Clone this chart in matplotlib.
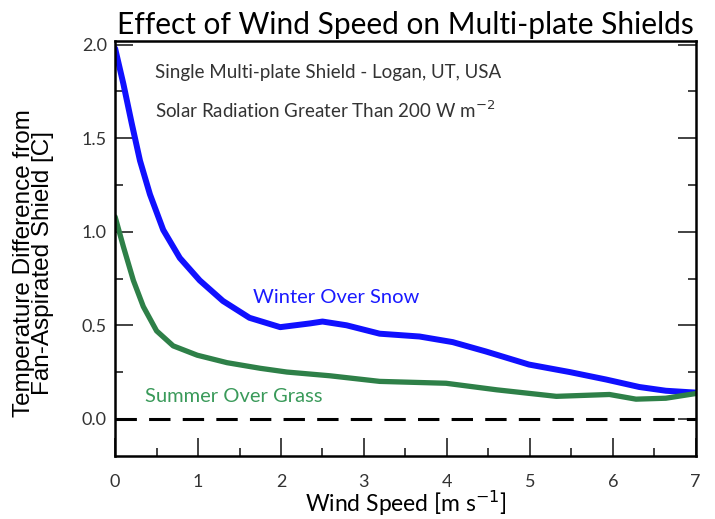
import numpy as np
import matplotlib
matplotlib.use('Agg')
import matplotlib.pyplot as plt
from matplotlib.ticker import MultipleLocator

# Winter over snow (blue)
winter_x = [0.0, 0.10, 0.20, 0.30, 0.42, 0.58, 0.78, 1.02, 1.30, 1.62, 1.99, 2.35, 2.50,
            2.79, 3.19, 3.67, 4.07, 4.47, 4.99, 5.48, 5.92, 6.32, 6.64, 7.0]
winter_y = [1.98, 1.79, 1.58, 1.38, 1.20, 1.01, 0.86, 0.74, 0.63, 0.54, 0.49, 0.51, 0.52,
            0.50, 0.455, 0.44, 0.41, 0.36, 0.29, 0.25, 0.21, 0.17, 0.15, 0.14]

# Summer over grass (green)
summer_x = [0.0, 0.10, 0.22, 0.34, 0.50, 0.70, 0.99, 1.35, 1.75, 2.07, 2.59, 3.19, 3.99,
            4.60, 5.32, 5.96, 6.28, 6.64, 7.0]
summer_y = [1.08, 0.92, 0.74, 0.60, 0.47, 0.39, 0.34, 0.30, 0.27, 0.25, 0.23, 0.20, 0.19,
            0.155, 0.12, 0.13, 0.105, 0.11, 0.135]

x_ticks = [0, 1, 2, 3, 4, 5, 6, 7]
y_ticks = [0.0, 0.5, 1.0, 1.5, 2.0]

fig = plt.figure(figsize=(7.15, 5.19), dpi=100)
ax = fig.add_axes([0.161, 0.121, 0.812, 0.80])

ax.plot(winter_x, winter_y, color='#1010ff', lw=4.3, solid_capstyle='round', solid_joinstyle='round')
ax.plot(summer_x, summer_y, color='#2e8048', lw=3.8, solid_capstyle='round', solid_joinstyle='round')
ax.axhline(0, color='black', lw=2.2, dashes=(7, 4))

ax.set_xlim(0, 7)
ax.set_ylim(-0.2, 2.02)
ax.set_xticks(x_ticks)
ax.set_yticks(y_ticks)
ax.set_xticklabels([str(t) for t in x_ticks], family='Lato', fontsize=13, color='#333333')
ax.set_yticklabels(['%.1f' % t for t in y_ticks], family='Lato', fontsize=13, color='#333333')
ax.xaxis.set_minor_locator(MultipleLocator(0.5))
ax.yaxis.set_minor_locator(MultipleLocator(0.25))
ax.tick_params(which='major', direction='in', length=13, width=1.2, right=True, pad=13, color='#222222')
ax.tick_params(axis='y', which='major', pad=6)
ax.tick_params(which='minor', direction='in', length=6, width=1.2, right=True, color='#222222')
for s in ax.spines.values():
    s.set_linewidth(1.8)

ax.text(0.48, 1.85, 'Single Multi-plate Shield - Logan, UT, USA', family='Lato',
        fontsize=13.5, color='#333333', va='center')
ax.text(0.48, 1.65, 'Solar Radiation Greater Than 200 W m$^{-2}$', family='Lato',
        fontsize=13.5, color='#333333', va='center')
ax.text(2.67, 0.65, 'Winter Over Snow', family='Lato', fontsize=14.5,
        color='#1a1aff', ha='center', va='center')
ax.text(1.43, 0.12, 'Summer Over Grass', family='Lato', fontsize=14.5,
        color='#3a9a5a', ha='center', va='center')

ax.set_title('Effect of Wind Speed on Multi-plate Shields', family='Lato',
             fontsize=21.5, pad=5)
ax.set_xlabel('Wind Speed [m s$^{-1}$]', family='Lato', fontsize=16.5, labelpad=-1)
ax.set_ylabel('Temperature Difference from\nFan-Aspirated Shield [C]',
              family='Liberation Sans', fontsize=17.5, linespacing=0.85)
ax.yaxis.set_label_coords(-0.105, 0.465)

fig.savefig('out.png', dpi=100)
